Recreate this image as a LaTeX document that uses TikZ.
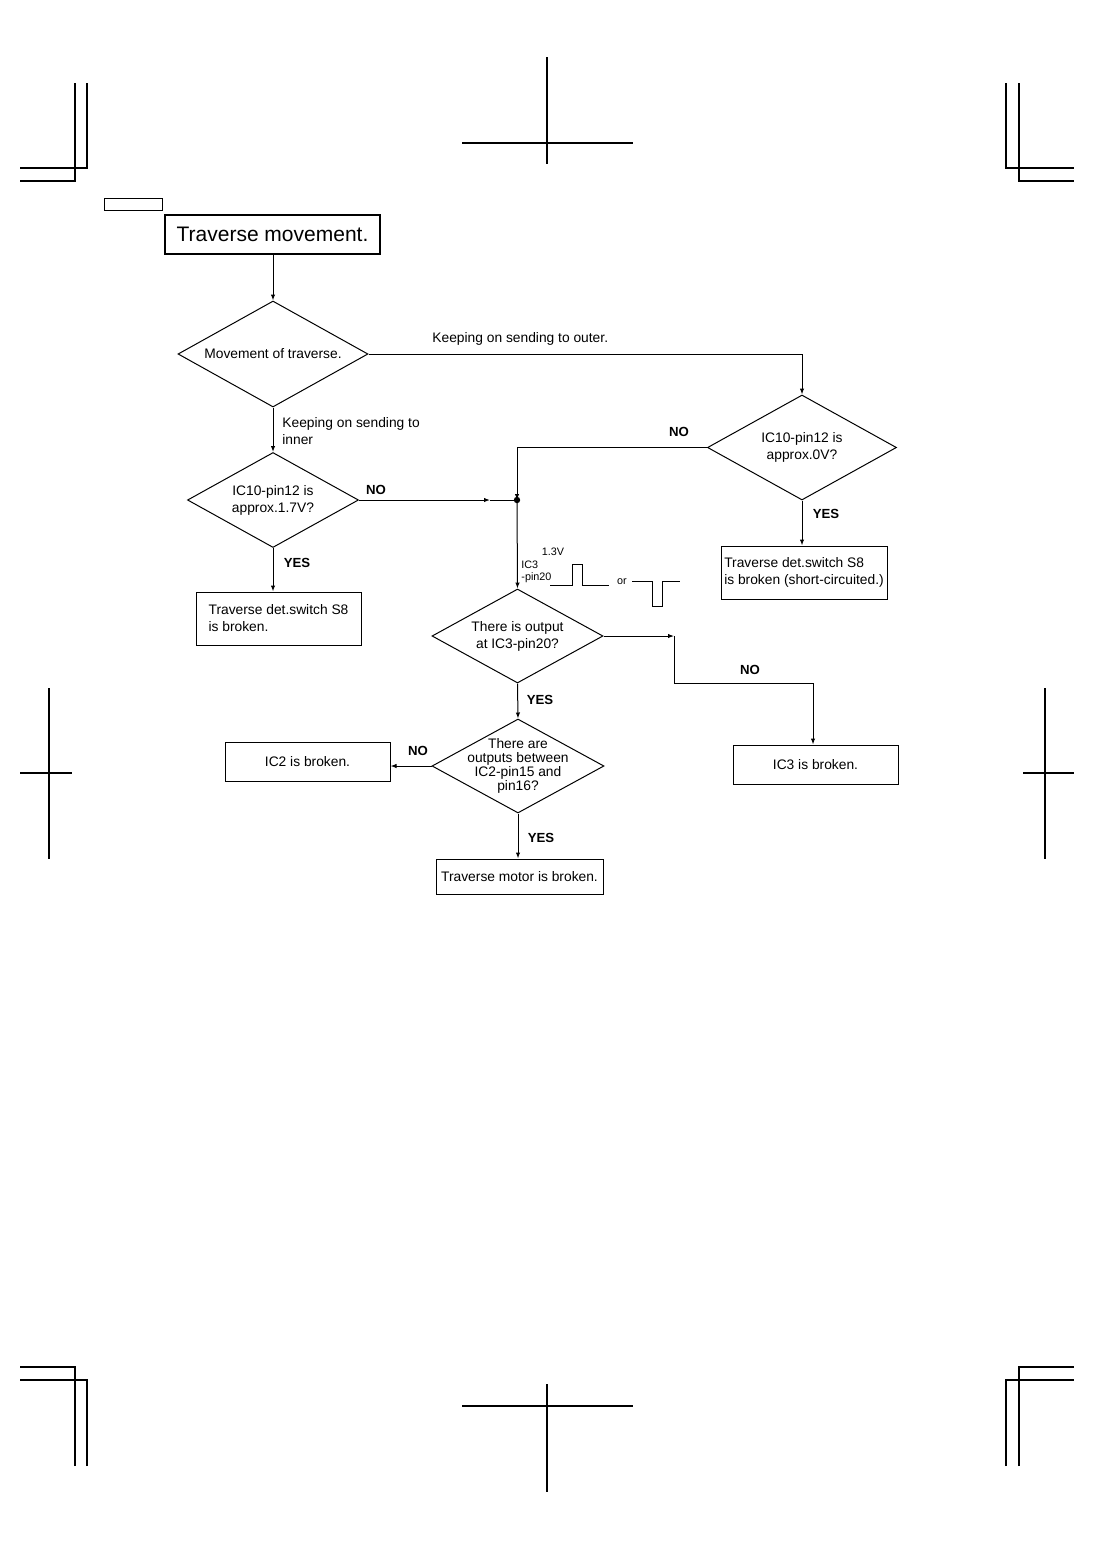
\documentclass[tikz,border=0pt]{standalone}
\usepackage{fontspec}
\setmainfont{Liberation Sans}
\usetikzlibrary{arrows.meta,positioning,shapes.geometric}
\tikzset{
  flowtitle/.style = {
    rectangle,
    draw,
    line width=0.55pt,
    align=center,
    inner sep=0pt,
    font=\fontsize{10.5}{12}\selectfont,
    minimum width=107.5pt,
    minimum height=19.5pt
  },
  flowdecision/.style = {
    diamond,
    draw,
    aspect=1.8,
    line width=0.5pt,
    align=center,
    inner sep=0pt,
    font=\fontsize{6.9}{8.5}\selectfont
  },
  flowproc/.style = {
    rectangle,
    draw,
    line width=0.5pt,
    align=left,
    inner sep=0pt,
    font=\fontsize{6.9}{8.5}\selectfont
  },
  flowarrow/.style = {
    -{Latex[length=3pt,width=2.2pt]},
    line width=0.5pt
  },
  flowline/.style = {
    line width=0.5pt
  },
  flowlabel/.style = {
    inner sep=0pt,
    font=\bfseries\fontsize{6.6}{8}\selectfont
  },
  flownote/.style = {
    inner sep=0pt,
    align=left,
    font=\fontsize{6.9}{8.3}\selectfont
  },
  flowsmall/.style = {
    inner sep=0pt,
    font=\fontsize{5.4}{6}\selectfont
  },
  cropthin/.style = {
    line width=0.55pt
  },
  cropthick/.style = {
    line width=1.1pt
  }
}

\begin{document}
\begin{tikzpicture}[x=0.5pt,y=-0.5pt]
    \useasboundingbox (0,0) rectangle (1094,1548);
    % crop marks
    \draw[cropthick] (75,83) -- (75,181) -- (20,181);
    \draw[cropthin] (87,83) -- (87,168) -- (20,168);
    \draw[cropthin] (1006,83) -- (1006,168) -- (1074,168);
    \draw[cropthin] (1019,83) -- (1019,181) -- (1074,181);
    \draw[cropthin] (547,57) -- (547,164);
    \draw[line width=1.4pt] (462,143) -- (633,143);
    \draw[cropthick] (75,1466) -- (75,1367) -- (20,1367);
    \draw[cropthin] (87,1466) -- (87,1380) -- (20,1380);
    \draw[cropthin] (1019,1466) -- (1019,1367) -- (1074,1367);
    \draw[cropthin] (1006,1466) -- (1006,1380) -- (1074,1380);
    \draw[cropthin] (547,1384) -- (547,1492);
    \draw[line width=1.4pt] (462,1406) -- (633,1406);
    \draw[cropthin] (49,688) -- (49,859);
    \draw[cropthin] (20,773) -- (72,773);
    \draw[cropthin] (1045,688) -- (1045,859);
    \draw[cropthin] (1023,773) -- (1074,773);
    \draw[flowline] (104,198) rectangle (162,210);

    % nodes
    \node[flowtitle] (title) at (272.5,234.5) {Traverse movement.};
    \node[flowdecision, minimum width=95pt, minimum height=53pt] (move) at (273,354) {Movement of traverse.};
    \node[flowdecision, minimum width=94.5pt, minimum height=52.5pt] (outer) at (802,447.5) {IC10-pin12 is\\approx.0V?};
    \node[flowdecision, minimum width=85.5pt, minimum height=47.5pt] (inner) at (273,500) {IC10-pin12 is\\approx.1.7V?};
    \node[flowproc, minimum width=82.5pt, minimum height=26.5pt] (swin) at (278.5,618.5) {Traverse det.switch S8\\is broken.};
    \node[flowproc, minimum width=83pt, minimum height=26.5pt] (swout) at (804,572.5) {Traverse det.switch S8\\is broken (short-circuited.)};
    \node[flowdecision, minimum width=85.5pt, minimum height=47pt] (out20) at (517.5,636) {There is output\\at IC3-pin20?};
    \node[flowproc, minimum width=82.5pt, minimum height=19.5pt] (ic3) at (815.5,764.5) {IC3 is broken.};
    \node[flowdecision, inner sep=-3.6pt, minimum width=86pt, minimum height=47pt, font=\fontsize{6.9}{7}\selectfont] (out15) at (518,766) {There are\\outputs between\\IC2-pin15 and\\pin16?};
    \node[flowproc, minimum width=82.5pt, minimum height=19.5pt] (ic2) at (307.5,761.5) {IC2 is broken.};
    \node[flowproc, minimum width=83.5pt, minimum height=17.5pt] (motor) at (519.5,876.5) {Traverse motor is broken.};
    \coordinate (junc) at (517,500);
    \coordinate (noarrow) at (490,500);
    \coordinate (bendtop) at (674,636);
    \coordinate (bendlow) at (813,683);

    % labels
    \node[flownote, anchor=west] (lblouter) at (432,339) {Keeping on sending to outer.};
    \node[flownote, anchor=west] (lblinner) at (282,431) {Keeping on sending to\\inner};
    \node[flowlabel] (noinner) at (376,490) {NO};
    \node[flowlabel] (noouter) at (679,432) {NO};
    \node[flowlabel] (yesinner) at (297,563) {YES};
    \node[flowlabel] (yesouter) at (826,514) {YES};
    \node[flowlabel] (noout20) at (750,670) {NO};
    \node[flowlabel] (yesout20) at (540,700) {YES};
    \node[flowlabel] (noout15) at (418,751) {NO};
    \node[flowlabel] (yesout15) at (541,838) {YES};

    % waveform
    \node[flowsmall] (volt) at (553,552) {1.3V};
    \node[flowsmall, anchor=west] (icthree) at (521,565) {IC3};
    \node[flowsmall, anchor=west] (pintwenty) at (521,578) {-pin20};
    \node[flowsmall] (wor) at (622,582) {or};
    \draw[flowline] (550,585) -- (572,585) -- (572,564) -- (582,564) -- (582,585) -- (609,585);
    \draw[flowline] (632,581) -- (652,581) -- (652,606) -- (662,606) -- (662,581) -- (680,581);

    % connectors
    \draw[flowarrow] (title.south -| move.north) -- (move.north);
    \draw[flowarrow] (move.east) -| (outer.north);
    \draw[flowarrow] (move.south) -- (inner.north);
    \draw[flowarrow] (outer.west) -| (junc);
    \draw[flowarrow] (inner.east) -- (noarrow);
    \draw[flowline] (noarrow) -- (junc);
    \fill (junc) circle (1.6pt);
    \draw[flowarrow] (junc) -- (out20.north);
    \draw[flowarrow] (inner.south) -- (inner.south |- swin.north);
    \draw[flowarrow] (outer.south) -- (outer.south |- swout.north);
    \draw[flowarrow] (out20.east) -- (bendtop);
    \draw[flowline] (bendtop) |- (bendlow);
    \draw[flowarrow] (bendlow) -- (bendlow |- ic3.north);
    \draw[flowarrow] (out20.south) -- (out15.north);
    \draw[flowarrow] (out15.west) -- (out15.west -| ic2.east);
    \draw[flowarrow] (out15.south) -- (out15.south |- motor.north);
\end{tikzpicture}
\end{document}
